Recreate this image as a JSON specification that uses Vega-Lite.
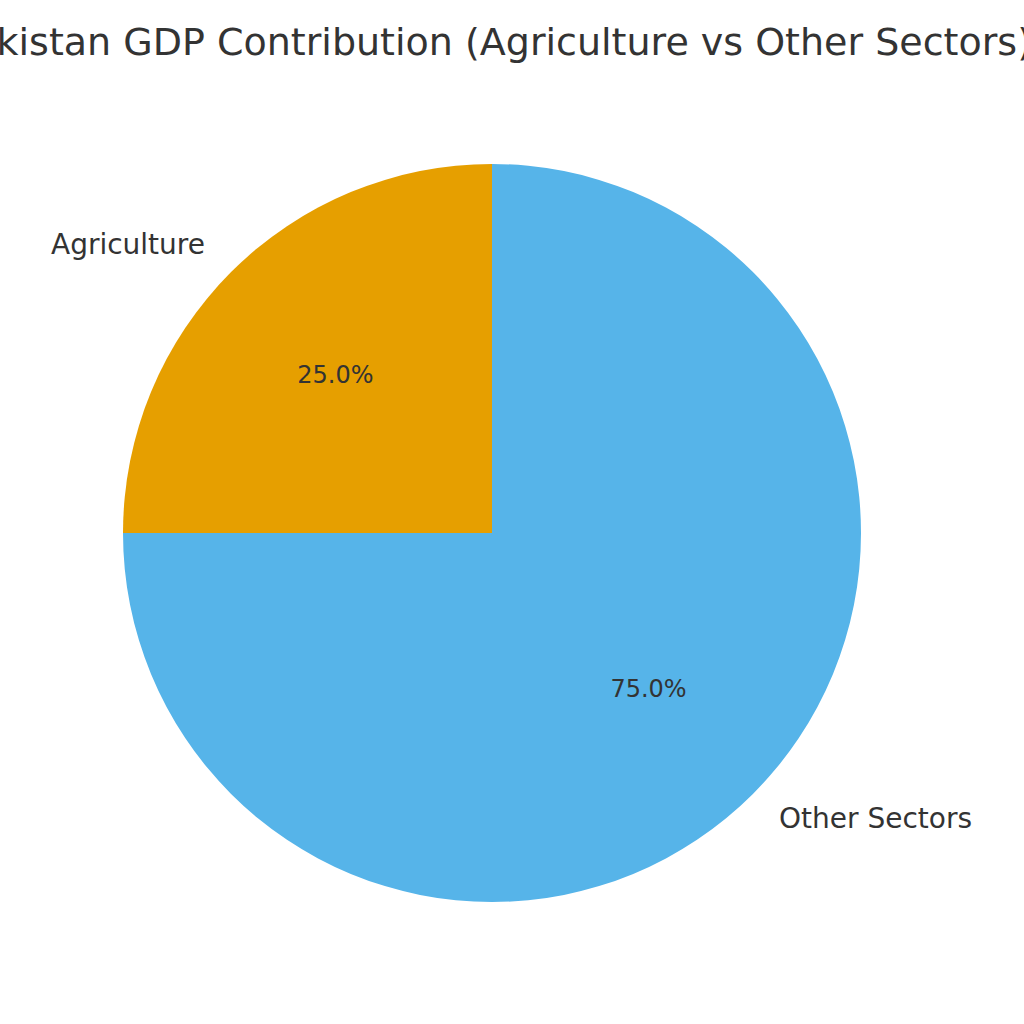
{
  "$schema": "https://vega.github.io/schema/vega-lite/v6.json",
  "autosize": "none",
  "padding": {"top": 80, "left": 0, "right": 40, "bottom": 38},
  "width": 984,
  "height": 906,
  "background": "white",
  "title": {
    "text": "Pakistan GDP Contribution (Agriculture vs Other Sectors)",
    "font": "DejaVu Sans",
    "fontSize": 38,
    "fontWeight": "normal",
    "color": "#333333",
    "anchor": "middle",
    "baseline": "alphabetic",
    "offset": -13
  },
  "data": {
    "values": [
      {"sector": "Agriculture", "share": 0.25},
      {"sector": "Other Sectors", "share": 0.75}
    ]
  },
  "encoding": {
    "theta": {"field": "share", "type": "quantitative", "stack": true},
    "order": {"field": "share", "type": "quantitative", "sort": "descending"}
  },
  "layer": [
    {
      "mark": {"type": "arc", "outerRadius": 369, "stroke": null},
      "encoding": {
        "color": {
          "field": "sector",
          "type": "nominal",
          "scale": {"domain": ["Agriculture", "Other Sectors"], "range": ["#E69F00", "#56B4E9"]},
          "legend": null
        }
      }
    },
    {
      "mark": {"type": "text", "radius": 221.4, "font": "DejaVu Sans", "fontSize": 24, "color": "#333333", "align": "center", "baseline": "middle"},
      "encoding": {
        "text": {"field": "share", "type": "quantitative", "format": ".1%"}
      }
    },
    {
      "mark": {"type": "text", "radius": 405.9, "font": "DejaVu Sans", "fontSize": 28, "color": "#333333", "align": "right", "baseline": "middle"},
      "encoding": {
        "text": {"condition": {"test": "datum.sector === 'Agriculture'", "field": "sector"}, "value": ""}
      }
    },
    {
      "mark": {"type": "text", "radius": 405.9, "font": "DejaVu Sans", "fontSize": 28, "color": "#333333", "align": "left", "baseline": "middle"},
      "encoding": {
        "text": {"condition": {"test": "datum.sector === 'Other Sectors'", "field": "sector"}, "value": ""}
      }
    }
  ],
  "config": {"view": {"stroke": null}}
}
